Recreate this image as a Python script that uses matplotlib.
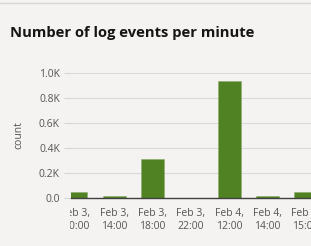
import matplotlib
matplotlib.use("Agg")
import matplotlib.pyplot as plt
from matplotlib.lines import Line2D
from matplotlib.transforms import Bbox, TransformedBbox

categories = ["Feb 3,\n10:00", "Feb 3,\n14:00", "Feb 3,\n18:00", "Feb 3,\n22:00",
              "Feb 4,\n12:00", "Feb 4,\n14:00", "Feb 4,\n15:00"]
counts = [50, 20, 315, 3, 938, 18, 48]
yticks = [0, 200, 400, 600, 800, 1000]
ytick_labels = ["0.0", "0.2K", "0.4K", "0.6K", "0.8K", "1.0K"]

bg = "#f4f3f1"
bar_color = "#508223"
text_color = "#555555"

plt.rcParams['font.family'] = ['Open Sans', 'DejaVu Sans']

fig = plt.figure(figsize=(3.11, 2.46), dpi=100, facecolor=bg)
ax = fig.add_axes([71/311, 1-198/246, 1-71/311, (198-73)/246])
ax.set_facecolor(bg)

x = list(range(len(categories)))
ax.bar(x, counts, width=0.6, color=bar_color, edgecolor="#8aab6c", linewidth=0.4, zorder=3)

ax.set_xlim(-0.125, 6.14)
ax.set_ylim(0, 1000)
ax.set_xticks(x)
ax.set_xticklabels(categories, fontsize=7.5, color=text_color, linespacing=1.3)
ax.set_yticks(yticks)
ax.set_yticklabels(ytick_labels, fontsize=7.5, color=text_color)
ax.tick_params(axis='x', length=0, pad=7)
ax.tick_params(axis='y', length=5, color="#d4d4d4", width=0.8, pad=3)
ax.yaxis.get_major_ticks()[0].tick1line.set_color("#404040")

ax.grid(axis='y', color="#d9d9d9", linewidth=0.8, zorder=0)
for s in ['top', 'right', 'left']:
    ax.spines[s].set_visible(False)
ax.spines['bottom'].set_color("#404040")
ax.spines['bottom'].set_linewidth(1.0)
ax.spines['bottom'].set_zorder(4)

ax.set_ylabel("count", fontsize=7.5, color=text_color)
ax.yaxis.set_label_coords(-(71-24)/240, 0.5)

clip = TransformedBbox(Bbox([[70/311, 0], [1, 1]]), fig.transFigure)
for lab in ax.get_xticklabels():
    lab.set_clip_on(True)
    lab.set_clip_box(clip)

fig.text(10/311, 1-33/246, "Number of log events per minute", fontsize=10.6,
         fontweight='bold', color="#161513", va='center', ha='left')
fig.add_artist(Line2D([0, 1], [1-3/246, 1-3/246], transform=fig.transFigure,
                      color="#d6d6d6", linewidth=1))

fig.savefig("out.png", dpi=100, facecolor=bg)
